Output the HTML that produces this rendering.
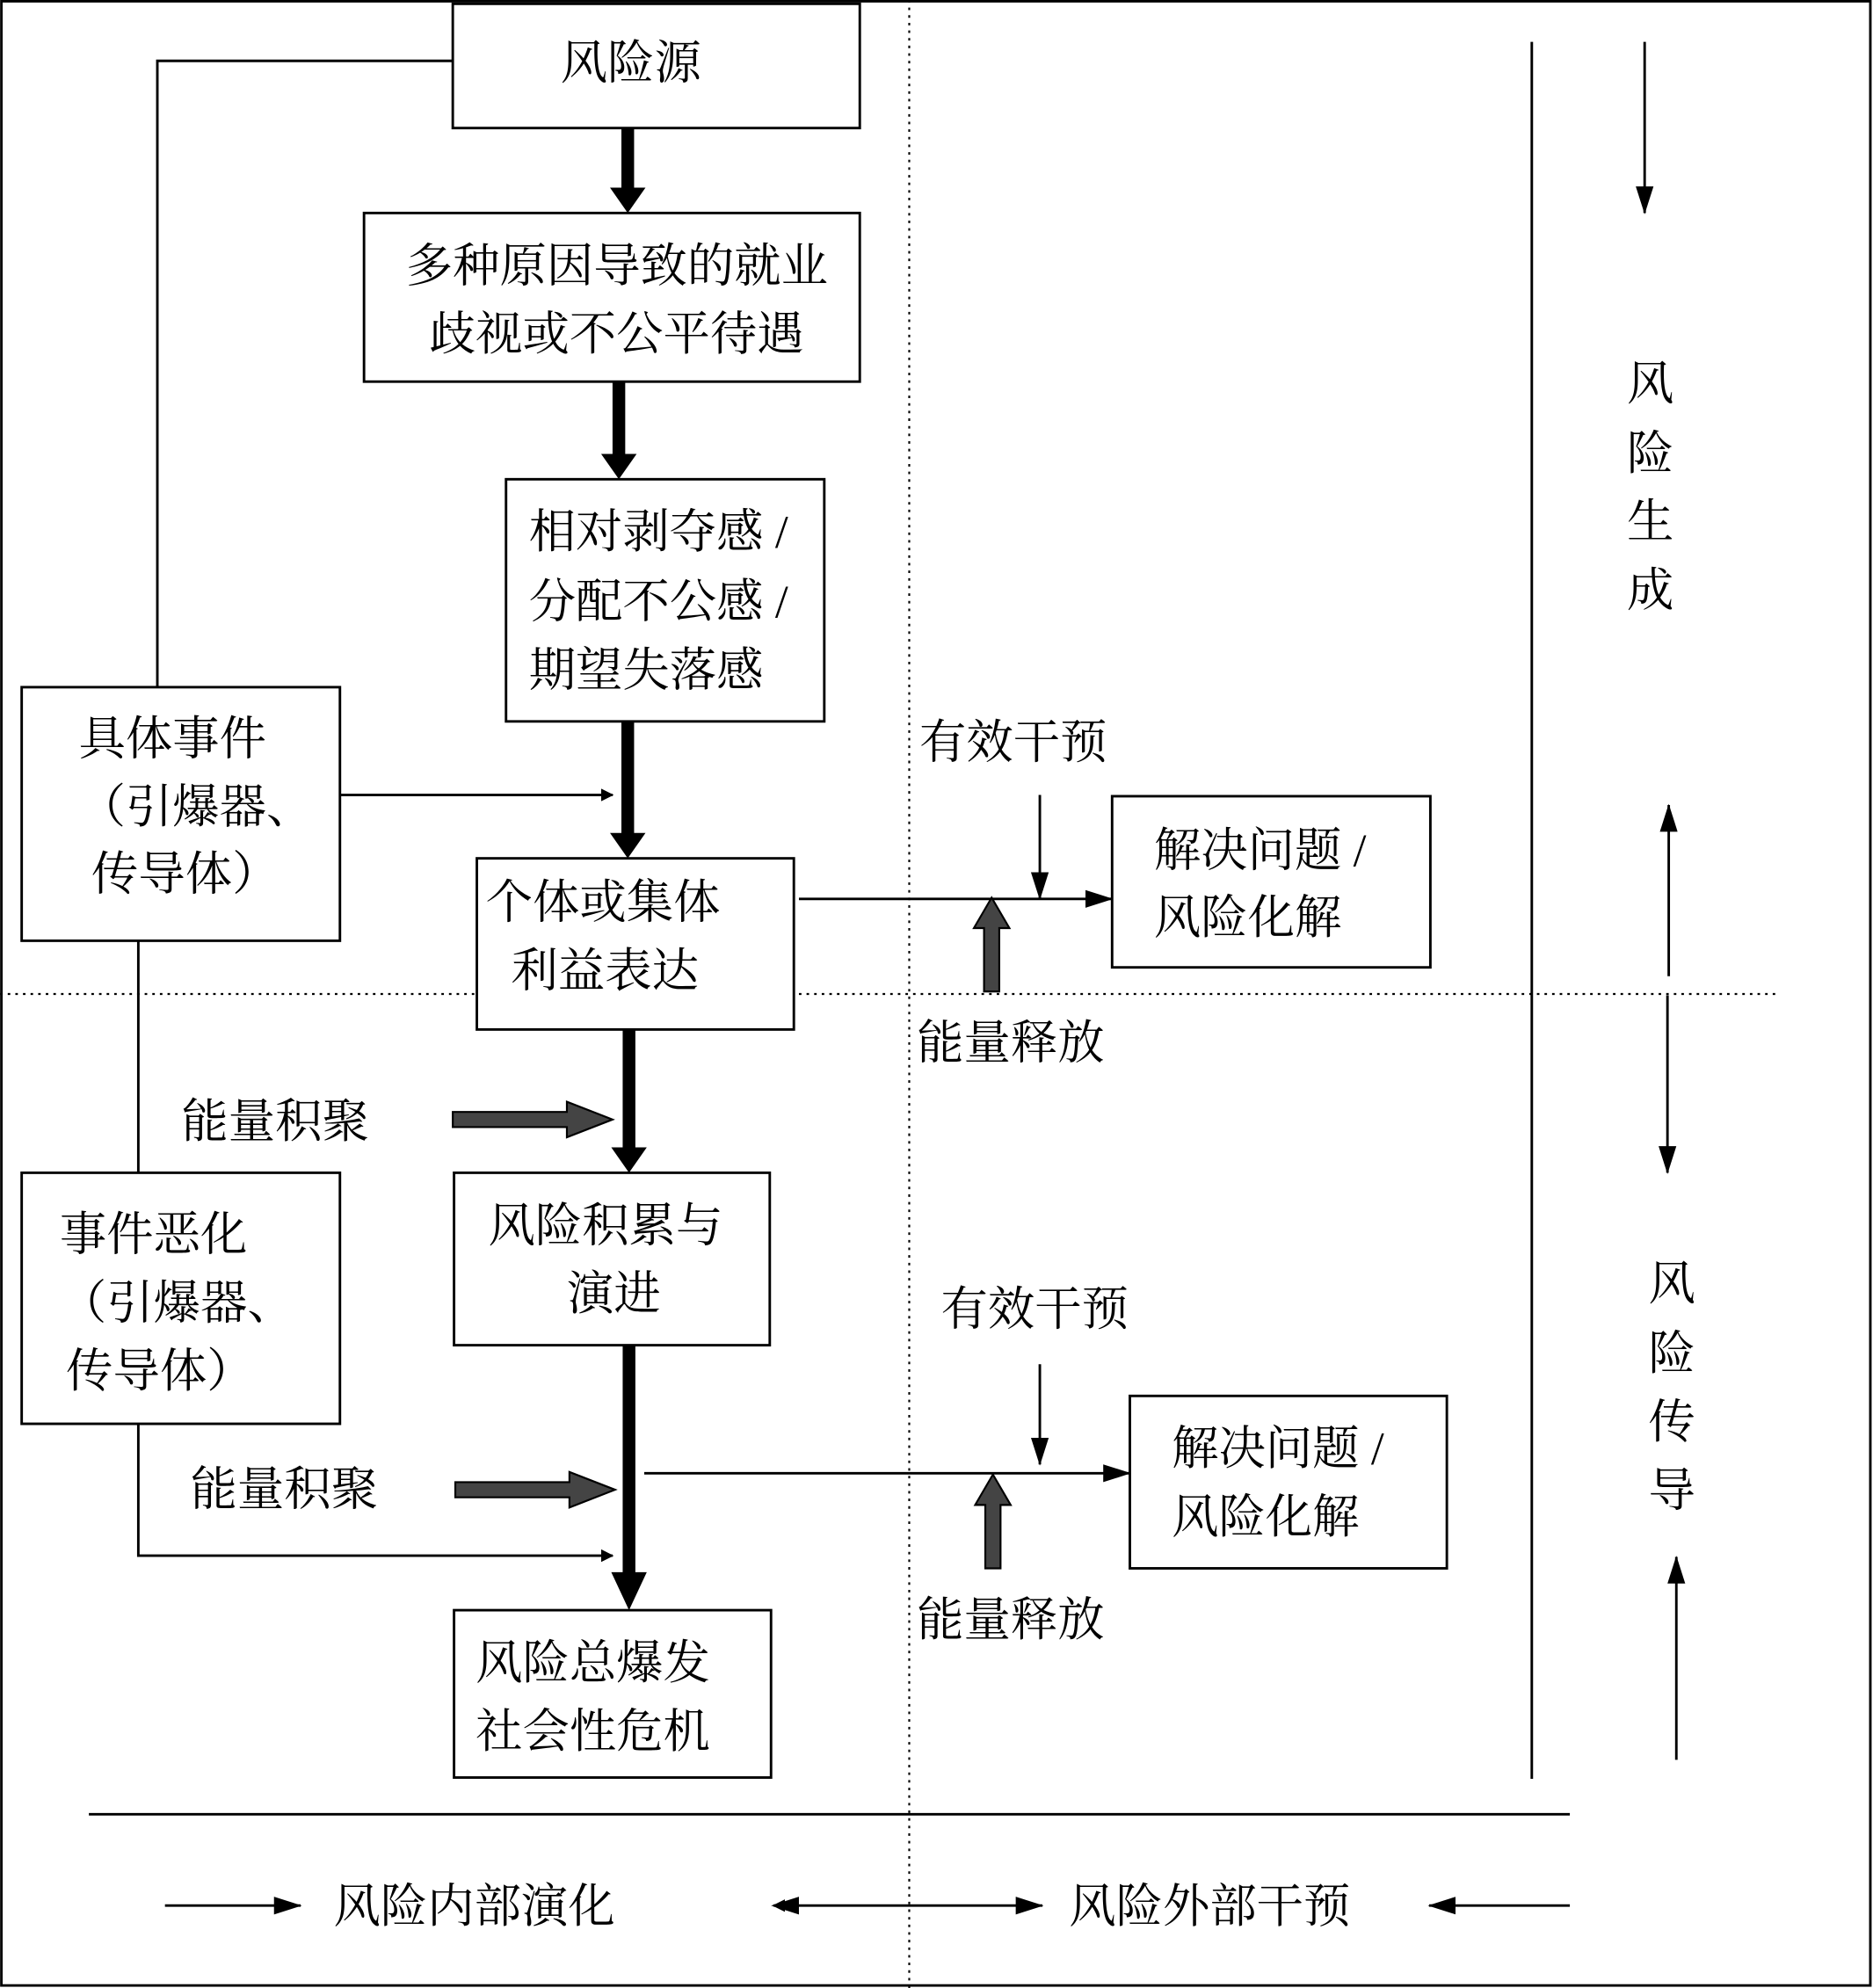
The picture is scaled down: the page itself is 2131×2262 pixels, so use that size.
<!DOCTYPE html>
<html><head><meta charset="utf-8"><style>
html,body{margin:0;padding:0;background:#fff}
svg{display:block}
text{font-family:"Liberation Serif","Noto Serif CJK SC",serif;font-size:37px;fill:#000}
</style></head><body>
<svg width="2131" height="2262" viewBox="0 0 1477 1568" xmlns="http://www.w3.org/2000/svg">
<defs>
<marker id="a" markerWidth="10" markerHeight="10" refX="9" refY="5" orient="auto" markerUnits="userSpaceOnUse"><path d="M0,0 L10,5 L0,10 Z" fill="#000"/></marker>
<marker id="b" markerWidth="22" markerHeight="14" refX="21" refY="7" orient="auto" markerUnits="userSpaceOnUse"><path d="M0,0 L22,7 L0,14 Z" fill="#000"/></marker>
<marker id="as" markerWidth="10" markerHeight="10" refX="1" refY="5" orient="auto" markerUnits="userSpaceOnUse"><path d="M10,0 L0,5 L10,10 Z" fill="#000"/></marker>
</defs>
<rect x="1" y="1" width="1474" height="1565" fill="none" stroke="#000" stroke-width="2"/>
<line x1="717" y1="0" x2="717" y2="1568" stroke="#000" stroke-width="1.5" stroke-dasharray="2,4"/>
<line x1="0" y1="784" x2="1400" y2="784" stroke="#000" stroke-width="1.5" stroke-dasharray="2,4"/>
<g fill="#fff" stroke="#000" stroke-width="2">
<rect x="357" y="3" width="321" height="98"/>
<rect x="287" y="168" width="391" height="133"/>
<rect x="399" y="378" width="251" height="191"/>
<rect x="17" y="542" width="251" height="200"/>
<rect x="376" y="677" width="250" height="135"/>
<rect x="877" y="628" width="251" height="135"/>
<rect x="17" y="925" width="251" height="198"/>
<rect x="358" y="925" width="249" height="136"/>
<rect x="891" y="1101" width="250" height="136"/>
<rect x="358" y="1270" width="250" height="132"/>
</g>
<g stroke="#000" stroke-width="2" fill="none">
<polyline points="357,48 124,48 124,542"/>
<line x1="268" y1="627" x2="483" y2="627" marker-end="url(#a)"/>
<line x1="109" y1="742" x2="109" y2="925"/>
<polyline points="109,1123 109,1227 483,1227" marker-end="url(#a)"/>
<line x1="630" y1="709" x2="877" y2="709" marker-end="url(#b)"/>
<line x1="820" y1="627" x2="820" y2="709" marker-end="url(#b)"/>
<line x1="508" y1="1162" x2="891" y2="1162" marker-end="url(#b)"/>
<line x1="820" y1="1076" x2="820" y2="1155" marker-end="url(#b)"/>
<line x1="1208" y1="33" x2="1208" y2="1403"/>
<line x1="70" y1="1431" x2="1238" y2="1431"/>
<line x1="1297" y1="33" x2="1297" y2="168" marker-end="url(#b)"/>
<line x1="1316" y1="770" x2="1316" y2="635" marker-end="url(#b)"/>
<line x1="1315" y1="785" x2="1315" y2="925" marker-end="url(#b)"/>
<line x1="1322" y1="1388" x2="1322" y2="1228" marker-end="url(#b)"/>
<line x1="130" y1="1503" x2="237" y2="1503" marker-end="url(#b)"/>
<line x1="610" y1="1503" x2="822" y2="1503" marker-end="url(#b)" marker-start="url(#as)"/>
<line x1="1238" y1="1503" x2="1127" y2="1503" marker-end="url(#b)"/>
</g>
<path d="M608,1503 l22,-7 v14 z" fill="#000"/>
<g fill="#000">
<path d="M490,101 h10 v47 h9 l-14,20 l-14,-20 h9 z"/>
<path d="M483,301 h10 v57 h9 l-14,20 l-14,-20 h9 z"/>
<path d="M490,569 h10 v88 h9 l-14,20 l-14,-20 h9 z"/>
<path d="M491,812 h10 v93 h9 l-14,20 l-14,-20 h9 z"/>
<path d="M491,1061 h10 v179 h9 l-14,30 l-14,-30 h9 z"/>
</g>
<g fill="#444" stroke="#000" stroke-width="1.5">
<path d="M357,877 h90 v-8 l36,14 l-36,14 v-8 h-90 z"/>
<path d="M359,1169 h90 v-8 l36,14 l-36,14 v-8 h-90 z"/>
<path d="M776,782 v-50 h-8 l14,-24 l14,24 h-8 v50 z"/>
<path d="M777,1237 v-50 h-8 l14,-24 l14,24 h-8 v50 z"/>
</g>
<text x="442" y="62">风险源</text>
<text x="320" y="222">多种原因导致的就业</text>
<text x="338" y="276">歧视或不公平待遇</text>
<text x="417" y="432">相对剥夺感 /</text>
<text x="417" y="487">分配不公感 /</text>
<text x="417" y="541">期望失落感</text>
<text x="62" y="595">具体事件</text>
<text x="62" y="649">（引爆器、</text>
<text x="72" y="702">传导体）</text>
<text x="383" y="724">个体或集体</text>
<text x="403" y="778">利益表达</text>
<text x="725" y="598">有效干预</text>
<text x="910" y="683">解决问题 /</text>
<text x="910" y="736">风险化解</text>
<text x="723" y="835">能量释放</text>
<text x="143" y="897">能量积聚</text>
<text x="47" y="986">事件恶化</text>
<text x="47" y="1040">（引爆器、</text>
<text x="52" y="1094">传导体）</text>
<text x="385" y="979">风险积累与</text>
<text x="447" y="1033">演进</text>
<text x="742" y="1045">有效干预</text>
<text x="924" y="1155">解决问题 /</text>
<text x="924" y="1209">风险化解</text>
<text x="150" y="1187">能量积聚</text>
<text x="723" y="1290">能量释放</text>
<text x="375" y="1324">风险总爆发</text>
<text x="375" y="1378">社会性危机</text>
<text x="1283" y="315">风</text>
<text x="1283" y="370">险</text>
<text x="1283" y="424">生</text>
<text x="1283" y="478">成</text>
<text x="1300" y="1025">风</text>
<text x="1300" y="1080">险</text>
<text x="1300" y="1134">传</text>
<text x="1300" y="1188">导</text>
<text x="263" y="1516">风险内部演化</text>
<text x="843" y="1516">风险外部干预</text>
</svg>
</body></html>
